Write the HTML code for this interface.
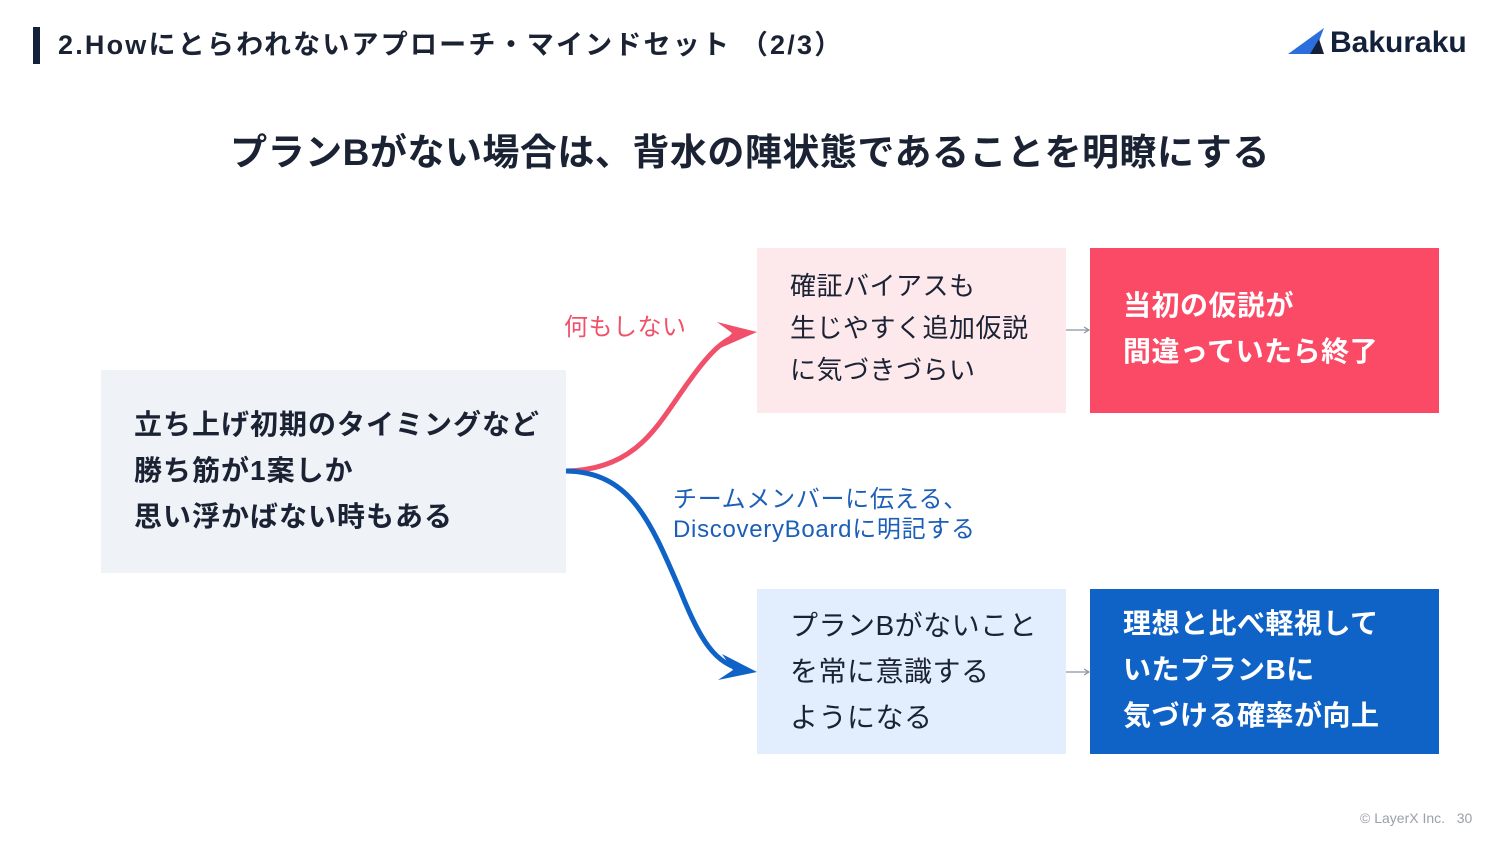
<!DOCTYPE html>
<html><head><meta charset="utf-8"><style>
*{margin:0;padding:0;box-sizing:border-box}
body{width:1500px;height:844px;background:#fff;position:relative;overflow:hidden;font-family:"Liberation Sans","Noto Sans CJK JP",sans-serif;color:#1a2233}
.a{position:absolute}
.box{position:absolute;font-size:26px;line-height:42px}
</style></head><body>
<div class="a" style="left:33px;top:27px;width:7px;height:37px;background:#14213a"></div>
<div class="a" style="left:58px;top:26px;font-size:27px;font-weight:bold;line-height:38px;letter-spacing:2.2px">2.Howにとらわれないアプローチ・マインドセット （2/3）</div>
<svg class="a" style="left:1288px;top:28px" width="40" height="28"><polygon points="0,26 36,0 26,26" fill="#2a6fdb"/><polygon points="22,26 31,11 36,26" fill="#14213a"/></svg>
<div class="a" style="left:1330px;top:24px;font-size:30px;font-weight:bold;color:#14213a;line-height:38px">Bakuraku</div>
<div class="a" style="left:0;width:1500px;top:128px;text-align:center;font-size:37px;font-weight:bold;line-height:50px;letter-spacing:0.5px">プランBがない場合は、背水の陣状態であることを明瞭にする</div>

<div class="box" style="left:101px;top:370px;width:465px;height:203px;background:#eff3f8;padding:32px 0 0 33px;font-weight:bold;font-size:28px;line-height:46px;letter-spacing:1px">立ち上げ初期のタイミングなど<br>勝ち筋が1案しか<br>思い浮かばない時もある</div>

<div class="box" style="left:757px;top:248px;width:309px;height:165px;background:#fde8ec;padding:17px 0 0 33px;letter-spacing:0.5px">確証バイアスも<br>生じやすく追加仮説<br>に気づきづらい</div>
<div class="box" style="left:1090px;top:248px;width:349px;height:165px;background:#fb4a66;color:#fff;font-weight:bold;font-size:28px;line-height:46px;padding:35px 0 0 33px;letter-spacing:0.5px">当初の仮説が<br>間違っていたら終了</div>

<div class="box" style="left:757px;top:589px;width:309px;height:165px;background:#e2eefd;padding:14px 0 0 33px;line-height:46px;font-size:28px;letter-spacing:0.5px">プランBがないこと<br>を常に意識する<br>ようになる</div>
<div class="box" style="left:1090px;top:589px;width:349px;height:165px;background:#0f62c6;color:#fff;font-weight:bold;font-size:28px;line-height:46px;padding:12px 0 0 33px;letter-spacing:0.5px">理想と比べ軽視して<br>いたプランBに<br>気づける確率が向上</div>

<div class="a" style="left:564px;top:312px;color:#f0506a;font-size:24px;line-height:32px;letter-spacing:0.5px">何もしない</div>
<div class="a" style="left:673px;top:485px;color:#1b5fb8;font-size:24px;line-height:30px;letter-spacing:0.7px">チームメンバーに伝える、<br>DiscoveryBoardに明記する</div>

<svg class="a" style="left:0;top:0" width="1500" height="844">
<path d="M566,471 C640,470 660,420 690,380 C710,352 725,337 745,333" stroke="#f0506a" stroke-width="5" fill="none"/>
<polygon points="757,332 717,322 732,333 718,349" fill="#f0506a"/>
<path d="M566,471 C630,472 650,520 680,590 C700,640 715,665 745,670" stroke="#0f62c6" stroke-width="5" fill="none"/>
<polygon points="757,672 722,654 733,670 718,680" fill="#0f62c6"/>
<path d="M1066,330 L1088,330 M1084,327 L1089,330 L1084,333" stroke="#8a94a3" stroke-width="1.2" fill="none"/>
<path d="M1066,672 L1088,672 M1084,669 L1089,672 L1084,675" stroke="#8a94a3" stroke-width="1.2" fill="none"/>
</svg>
<div class="a" style="left:1360px;top:810px;font-size:14px;color:#9aa0a8">© LayerX Inc.&nbsp;&nbsp;&nbsp;30</div>
</body></html>
